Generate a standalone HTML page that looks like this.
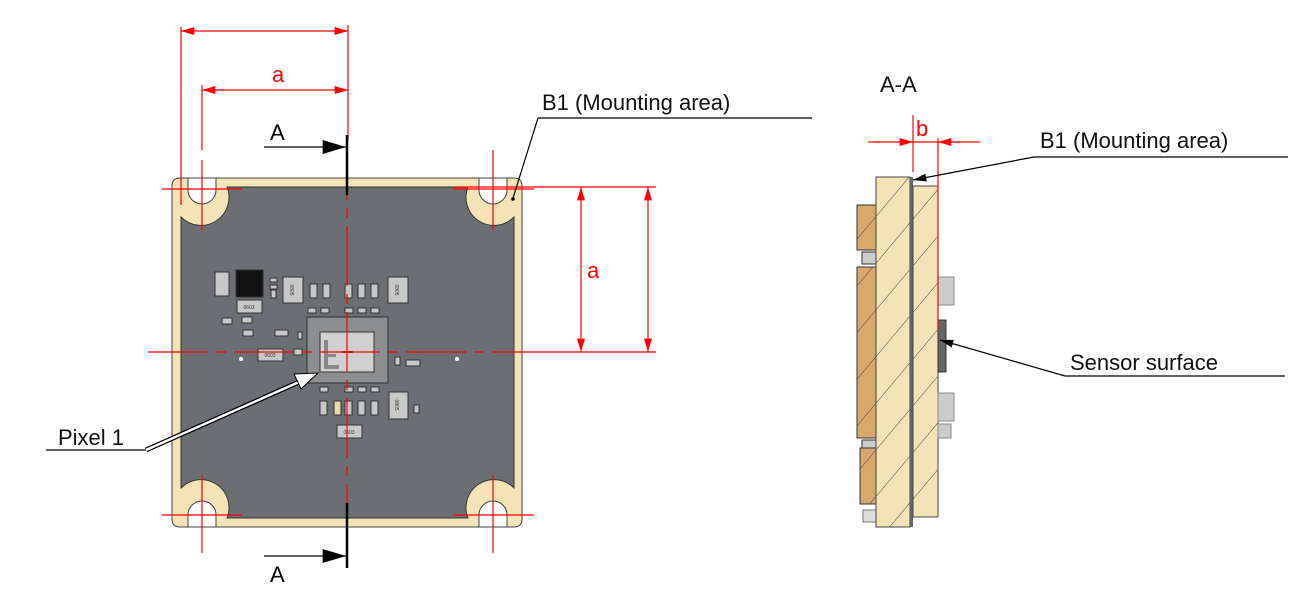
<!DOCTYPE html>
<html><head><meta charset="utf-8"><style>
html,body{margin:0;padding:0;background:#fff;}
svg{display:block;font-family:"Liberation Sans",sans-serif;}
</style></head><body>
<svg width="1309" height="592" viewBox="0 0 1309 592" xmlns="http://www.w3.org/2000/svg">
<defs>
<marker id="ra" viewBox="0 0 10 6" refX="10" refY="3" markerWidth="22" markerHeight="8" markerUnits="userSpaceOnUse" orient="auto-start-reverse"><path d="M0,0L10,3L0,6z" fill="red"/></marker>
<marker id="ka" viewBox="0 0 10 6" refX="10" refY="3" markerWidth="40" markerHeight="14" markerUnits="userSpaceOnUse" orient="auto"><path d="M0,0L10,3L0,6z" fill="#000"/></marker>
<marker id="ks" viewBox="0 0 10 6" refX="10" refY="3" markerWidth="22" markerHeight="8" markerUnits="userSpaceOnUse" orient="auto"><path d="M0,0L10,3L0,6z" fill="#000"/></marker>
<pattern id="hatch" patternUnits="userSpaceOnUse" width="30" height="30" patternTransform="rotate(-50)"><rect width="30" height="30" fill="#f3e3b5"/><line x1="0" y1="0" x2="30" y2="0" stroke="#444" stroke-width="1"/></pattern>
<pattern id="hatch2" patternUnits="userSpaceOnUse" width="30" height="30" patternTransform="rotate(-50)"><rect width="30" height="30" fill="#d8a86c"/><line x1="0" y1="0" x2="30" y2="0" stroke="#444" stroke-width="1"/></pattern>
</defs>

<!-- board -->
<path d="M180,178 H514 Q522,178 522,186 V519 Q522,527 514,527 H180 Q172,527 172,519 V186 Q172,178 180,178Z" fill="#f3e3b5" stroke="#444" stroke-width="1"/>
<path d="M227,187 H468 A28,28 0 0 0 514,217 V488 A28,28 0 0 0 468,518 H227 A28,28 0 0 0 181,488 V217 A28,28 0 0 0 227,187Z" fill="#6b6e72" stroke="#333" stroke-width="1"/>
<!-- holes -->
<g fill="#fff" stroke="#444">
<path d="M188,178 V190 A14,14 0 0 0 216,190 V178Z"/>
<path d="M479,178 V190 A14,14 0 0 0 507,190 V178Z"/>
<path d="M188,527 V515 A14,14 0 0 1 216,515 V527Z"/>
<path d="M479,527 V515 A14,14 0 0 1 507,515 V527Z"/>
</g>
<!-- components -->
<g fill="#c8c8c8" stroke="#333" stroke-width="1">
<rect x="215" y="272" width="14" height="24"/>
<rect x="236" y="270" width="27" height="27" fill="#111"/>
<rect x="237" y="300" width="25" height="13"/>
<rect x="283" y="277" width="20" height="26"/>
<rect x="388" y="277" width="20" height="26"/>
<rect x="389" y="392" width="19" height="27"/>
<rect x="337" y="425" width="25" height="13"/>
<rect x="258" y="349" width="25" height="12"/>
<rect x="222" y="318" width="10" height="6"/><rect x="243" y="330" width="10" height="6"/>
<rect x="242" y="317" width="10" height="6"/>
<rect x="275" y="330" width="13" height="6"/><rect x="294" y="349" width="8" height="6"/><rect x="298" y="332" width="4" height="7"/>
<rect x="270" y="278" width="7" height="4"/><rect x="270" y="285" width="7" height="4"/><rect x="271" y="290" width="5" height="8"/>
<rect x="310" y="284" width="7" height="14"/><rect x="323" y="284" width="7" height="14"/>
<rect x="345" y="284" width="7" height="14"/><rect x="358" y="284" width="7" height="14"/><rect x="371" y="284" width="7" height="14"/>
<rect x="308" y="308" width="8" height="5"/><rect x="321" y="308" width="8" height="5"/><rect x="345" y="308" width="8" height="5"/><rect x="358" y="308" width="8" height="5"/><rect x="371" y="308" width="8" height="5"/>
<rect x="320" y="387" width="8" height="5"/><rect x="345" y="387" width="8" height="5"/><rect x="358" y="387" width="8" height="5"/><rect x="371" y="387" width="8" height="5"/>
<rect x="320" y="401" width="7" height="14"/><rect x="334" y="401" width="7" height="14" fill="#e8d8a8"/><rect x="345" y="401" width="7" height="14"/><rect x="358" y="401" width="7" height="14"/><rect x="371" y="401" width="7" height="14"/>
<rect x="395" y="357" width="5" height="8"/><rect x="406" y="360" width="14" height="6"/><rect x="414" y="405" width="5" height="8"/>
<rect x="307" y="317" width="81" height="66" fill="#8c8e90"/>
<rect x="320" y="332" width="54" height="40" fill="#d0d0d0"/>
</g>
<g font-size="5" fill="#333" text-anchor="middle">
<text x="249" y="309">0603</text><text x="270" y="357">0603</text><text x="349" y="434">0603</text>
<text x="293" y="293" transform="rotate(90 293 290)">0805</text><text x="398" y="293" transform="rotate(90 398 290)">0805</text>
<text x="398" y="408" transform="rotate(90 398 405)">0805</text>
</g>
<path d="M324,340 h4 v14 h8 v3 h-8 v8 h11 v4 h-15z" fill="#888"/>
<circle cx="241" cy="359" r="2" fill="#fff"/><circle cx="457" cy="359" r="2" fill="#fff"/>

<!-- red center lines -->
<g stroke="red" stroke-width="1.2" fill="none">
<line x1="148" y1="352" x2="550" y2="352" stroke-dasharray="60,8,10,8"/>
<line x1="347" y1="140" x2="347" y2="565" stroke-dasharray="60,8,10,8"/>
<line x1="162" y1="189" x2="242" y2="189"/><line x1="162" y1="515" x2="242" y2="515"/>
<line x1="453" y1="189" x2="534" y2="189"/><line x1="453" y1="515" x2="534" y2="515"/>
<line x1="202" y1="160" x2="202" y2="230"/><line x1="202" y1="475" x2="202" y2="553"/>
<line x1="493" y1="150" x2="493" y2="230"/><line x1="493" y1="475" x2="493" y2="553"/>
<line x1="181" y1="27" x2="181" y2="205"/><line x1="202" y1="85" x2="202" y2="150"/>
<line x1="348" y1="25" x2="348" y2="140"/>
<line x1="181" y1="31" x2="348" y2="31" marker-start="url(#ra)" marker-end="url(#ra)"/>
<line x1="202" y1="90" x2="348" y2="90" marker-start="url(#ra)" marker-end="url(#ra)"/>
<line x1="455" y1="187" x2="656" y2="187"/>
<line x1="550" y1="352" x2="656" y2="352"/>
<line x1="581" y1="187" x2="581" y2="352" marker-start="url(#ra)" marker-end="url(#ra)"/>
<line x1="648" y1="187" x2="648" y2="352" marker-start="url(#ra)" marker-end="url(#ra)"/>
<line x1="342" y1="352" x2="353" y2="352" stroke-width="2"/>
</g>
<g font-size="22" fill="red"><text x="272" y="82">a</text><text x="587" y="278">a</text><text x="916" y="136">b</text></g>

<!-- section markers -->
<line x1="347" y1="135" x2="347" y2="195" stroke="#000" stroke-width="2.5"/>
<line x1="347" y1="503" x2="347" y2="568" stroke="#000" stroke-width="2.5"/>
<line x1="264" y1="147" x2="346" y2="147" stroke="#000" stroke-width="1.2" marker-end="url(#ka)"/>
<line x1="264" y1="556" x2="346" y2="556" stroke="#000" stroke-width="1.2" marker-end="url(#ka)"/>
<g font-size="22" fill="#000"><text x="270" y="140">A</text><text x="270" y="582">A</text></g>

<!-- pixel 1 -->
<line x1="46" y1="450" x2="146" y2="450" stroke="#000" stroke-width="1.2"/>
<line x1="146" y1="450" x2="299" y2="382" stroke="#000" stroke-width="5"/>
<line x1="146" y1="450" x2="299" y2="382" stroke="#fff" stroke-width="2.5"/>
<polygon points="318,373 301,389 294,374" fill="#fff" stroke="#000" stroke-width="1"/>
<text x="58" y="445" font-size="22" fill="#111">Pixel 1</text>

<!-- B1 left -->
<line x1="538" y1="118" x2="812" y2="118" stroke="#000" stroke-width="1.2"/>
<line x1="538" y1="118" x2="513" y2="198" stroke="#000" stroke-width="1.2"/>
<circle cx="513" cy="199" r="1.8" fill="#000"/>
<text x="542" y="110" font-size="22" fill="#111">B1 (Mounting area)</text>

<!-- section view -->
<text x="880" y="92" font-size="22" fill="#111">A-A</text>
<rect x="857" y="267" width="19" height="171" fill="url(#hatch2)" stroke="#333"/>
<rect x="860" y="448" width="16" height="56" fill="url(#hatch2)" stroke="#333"/>
<rect x="857" y="205" width="19" height="45" fill="url(#hatch2)" stroke="#333"/>
<rect x="862" y="252" width="14" height="12" fill="#ccc" stroke="#333"/>
<rect x="862" y="440" width="14" height="8" fill="#ccc" stroke="#333"/>
<rect x="863" y="510" width="13" height="12" fill="#ddd" stroke="#777"/>
<rect x="876" y="177" width="34" height="350" fill="url(#hatch)" stroke="#444"/>
<rect x="910" y="177" width="3" height="350" fill="#666"/>
<rect x="913" y="186" width="25" height="331" fill="url(#hatch)" stroke="#444"/>
<g fill="#ccc" stroke="#888">
<rect x="938" y="277" width="16" height="28"/><rect x="938" y="393" width="16" height="28"/><rect x="938" y="424" width="13" height="14"/>
<rect x="938" y="320" width="8" height="52" fill="#666" stroke="#333"/>
</g>
<g stroke="red" stroke-width="1.2">
<line x1="913" y1="115" x2="913" y2="172"/>
<line x1="938" y1="138" x2="938" y2="330"/>
<line x1="868" y1="142" x2="913" y2="142" marker-end="url(#ra)"/>
<line x1="980" y1="142" x2="938" y2="142" marker-end="url(#ra)"/>
<line x1="913" y1="142" x2="938" y2="142"/>
</g>
<line x1="1034" y1="157" x2="1288" y2="157" stroke="#000" stroke-width="1.2"/>
<line x1="1034" y1="157" x2="913" y2="180" stroke="#000" stroke-width="1.2" marker-end="url(#ks)"/>
<text x="1040" y="148" font-size="22" fill="#111">B1 (Mounting area)</text>
<line x1="1065" y1="376" x2="1285" y2="376" stroke="#000" stroke-width="1.2"/>
<line x1="1065" y1="376" x2="940" y2="340" stroke="#000" stroke-width="1.2" marker-end="url(#ks)"/>
<text x="1070" y="370" font-size="22" fill="#111">Sensor surface</text>
</svg>
</body></html>
